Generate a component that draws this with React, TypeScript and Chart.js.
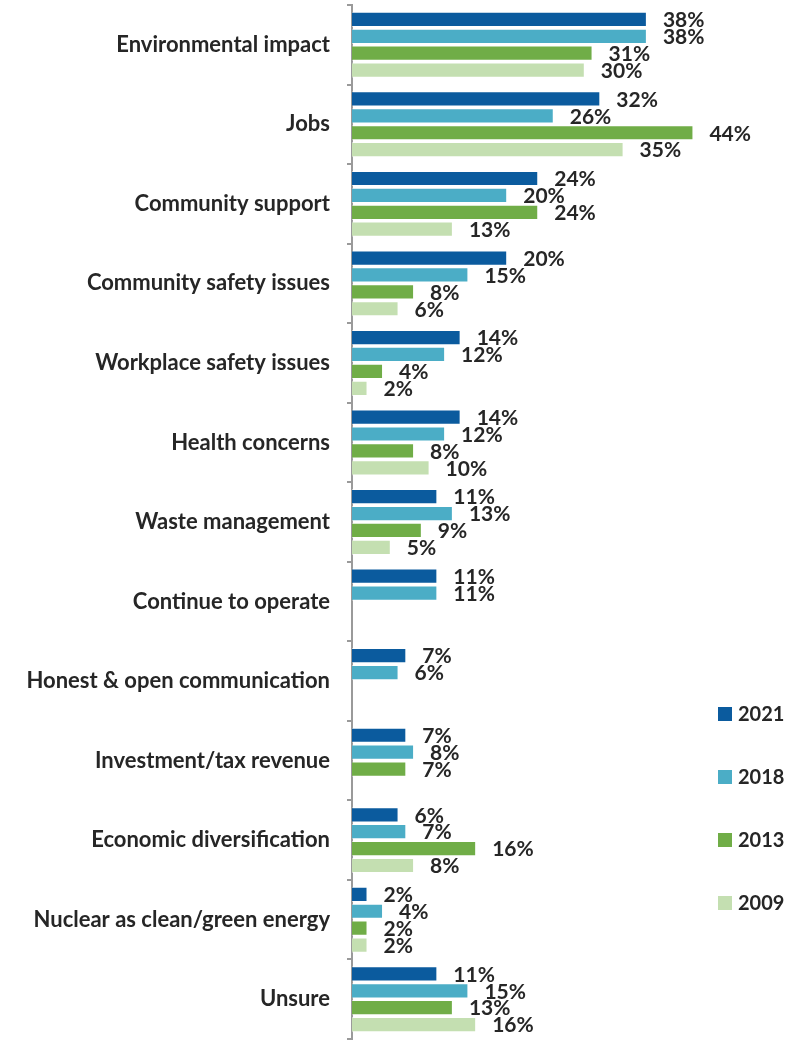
import React, { useEffect, useRef } from "react";
import { Chart, registerables } from "chart.js";

Chart.register(...registerables);

const categories = [
  "Environmental impact",
  "Jobs",
  "Community support",
  "Community safety issues",
  "Workplace safety issues",
  "Health concerns",
  "Waste management",
  "Continue to operate",
  "Honest & open communication",
  "Investment/tax revenue",
  "Economic diversification",
  "Nuclear as clean/green energy",
  "Unsure",
];

const seriesLabels = ["2021", "2018", "2013", "2009"];

const values2021 = [38, 32, 24, 20, 14, 14, 11, 11, 7, 7, 6, 2, 11];
const values2018 = [38, 26, 20, 15, 12, 12, 13, 11, 6, 8, 7, 4, 15];
const values2013 = [31, 44, 24, 8, 4, 8, 9, null, null, 7, 16, 2, 13];
const values2009 = [30, 35, 13, 6, 2, 10, 5, null, null, null, 8, 2, 16];

const seriesColors = ["#0B5B9E", "#4BADC6", "#70AD47", "#C4DFB1"];

const FONT = "Lato, 'Open Sans', sans-serif";
const TEXT_COLOR = "#262626";

const dataLabelPlugin = {
  id: "dataLabels",
  afterDatasetsDraw(chart: any) {
    const ctx = chart.ctx;
    ctx.save();
    ctx.font = `bold 21px ${FONT}`;
    ctx.fillStyle = TEXT_COLOR;
    ctx.textAlign = "left";
    ctx.textBaseline = "middle";
    chart.data.datasets.forEach((ds: any, di: number) => {
      const meta = chart.getDatasetMeta(di);
      meta.data.forEach((bar: any, i: number) => {
        const v = ds.data[i];
        if (v === null || v === undefined) return;
        ctx.fillText(`${v}%`, bar.x + 16, bar.y + 1);
      });
    });
    ctx.restore();
  },
};

const legendPlugin = {
  id: "customLegend",
  afterDraw(chart: any) {
    const ctx = chart.ctx;
    const boxX = 718;
    const startY = 714;
    const gap = 63;
    ctx.save();
    ctx.font = `bold 20px ${FONT}`;
    ctx.textAlign = "left";
    ctx.textBaseline = "middle";
    chart.data.datasets.forEach((ds: any, i: number) => {
      const cy = startY + i * gap;
      ctx.fillStyle = ds.backgroundColor;
      ctx.fillRect(boxX, cy - 7, 14, 14);
      ctx.fillStyle = TEXT_COLOR;
      ctx.fillText(ds.label, boxX + 20, cy + 1);
    });
    ctx.restore();
  },
};

export default function App() {
  const ref = useRef<HTMLCanvasElement>(null);

  useEffect(() => {
    if (!ref.current) return;
    const allSeries = [values2021, values2018, values2013, values2009];
    const chart = new Chart(ref.current, {
      type: "bar",
      data: {
        labels: categories,
        datasets: allSeries.map((vals, i) => ({
          label: seriesLabels[i],
          data: vals as any,
          backgroundColor: seriesColors[i],
          borderColor: "rgba(255,255,255,0.5)",
          borderWidth: 1,
          categoryPercentage: 0.85,
          barPercentage: 0.9,
        })),
      },
      options: {
        indexAxis: "y",
        responsive: false,
        animation: false,
        maintainAspectRatio: false,
        layout: { padding: { top: 5, bottom: 1, right: 59, left: 0 } },
        plugins: {
          legend: { display: false },
          tooltip: { enabled: false },
        },
        scales: {
          x: {
            display: false,
            min: 0,
            max: 50,
          },
          y: {
            afterFit(scale: any) {
              scale.width = 352;
              scale.paddingTop = 0;
              scale.paddingBottom = 0;
            },
            grid: {
              drawOnChartArea: false,
              drawTicks: true,
              tickLength: 5,
              color: "#9a9a9a",
              lineWidth: 2,
              offset: true,
            },
            border: { color: "#9a9a9a", width: 2 },
            ticks: {
              color: TEXT_COLOR,
              font: { family: FONT, size: 22, weight: "bold" },
              padding: 17,
              autoSkip: false,
            },
          },
        },
      },
      plugins: [dataLabelPlugin, legendPlugin],
    });
    return () => chart.destroy();
  }, []);

  return (
    <div style={{ position: "absolute", left: 0, top: 0, width: 799, height: 1040, background: "#fff" }}>
      <canvas ref={ref} width={799} height={1040} style={{ display: "block" }} />
    </div>
  );
}
